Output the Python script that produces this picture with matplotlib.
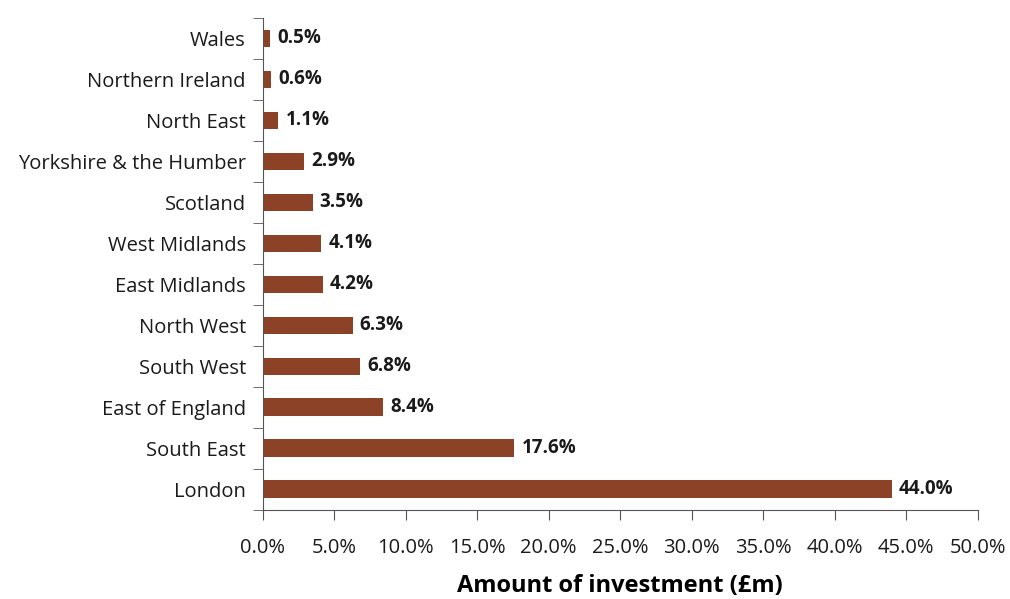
import numpy as np
import matplotlib.pyplot as plt
from matplotlib.ticker import FixedLocator, FuncFormatter

regions = ["London", "South East", "East of England", "South West", "North West",
           "East Midlands", "West Midlands", "Scotland", "Yorkshire & the Humber",
           "North East", "Northern Ireland", "Wales"]
shares = [44.0, 17.6, 8.4, 6.8, 6.3, 4.2, 4.1, 3.5, 2.9, 1.1, 0.6, 0.5]

plt.rcParams['font.family'] = ['Open Sans', 'DejaVu Sans']

fig = plt.figure(figsize=(10.1, 5.99), dpi=100)
ax = fig.add_axes([0.260, 0.149, 0.708, 0.821])

y = np.arange(len(regions))
ax.barh(y, shares, height=0.43, color='#8B4226')
for yi, v in zip(y, shares):
    ax.text(v + 0.5, yi, "%.1f%%" % v, va='center', ha='left',
            fontsize=13.5, fontweight='bold', color='#1a1a1a')

ax.set_xlim(0, 50)
ax.set_ylim(-0.5, len(regions) - 0.5)
ax.set_xticks(np.arange(0, 51, 5))
ax.xaxis.set_major_formatter(FuncFormatter(lambda v, p: "%.1f%%" % v))
ax.set_yticks(y)
ax.set_yticklabels(regions)
ax.yaxis.set_minor_locator(FixedLocator(np.arange(-0.5, len(regions), 1)))
ax.tick_params(axis='y', which='major', length=0, pad=12, labelsize=14.5, colors='#1a1a1a')
ax.tick_params(axis='y', which='minor', length=7, direction='out', color='#555555')
ax.tick_params(axis='x', length=7, direction='out', color='#555555', pad=13,
               labelsize=14.5, labelcolor='#1a1a1a')

for s in ['top', 'right']:
    ax.spines[s].set_visible(False)
ax.spines['left'].set_color('#555555')
ax.spines['bottom'].set_color('#555555')

ax.set_xlabel("Amount of investment (£m)", fontsize=17, fontweight='bold', labelpad=12)

plt.savefig("out.png")
